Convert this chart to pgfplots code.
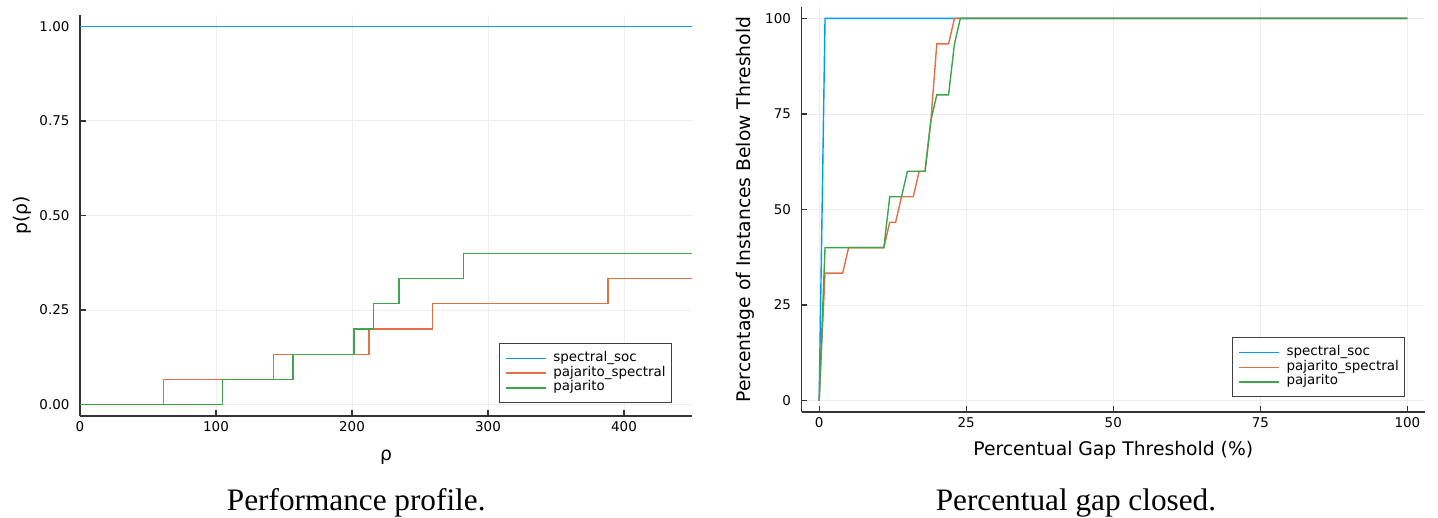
\documentclass[border=0pt]{standalone}
\usepackage{fontspec}
\setmainfont{Liberation Serif}
\newfontfamily\plotfont{DejaVu Sans}
\usepackage{pgfplots}
\pgfplotsset{compat=1.18}

\definecolor{jlblue}{RGB}{0,154,250}
\definecolor{jlorange}{RGB}{227,111,71}
\definecolor{jlgreen}{RGB}{62,164,78}

% Plots.jl-like look (GR backend)
\pgfplotsset{
  juliaplot/.style={
    scale only axis,
    axis x line*=bottom, axis y line*=left,
    axis line style={black!80, line width=0.45pt, -},
    tick align=inside,
    major tick length=1.9pt,
    tick style={black!80, line width=0.4pt},
    grid=major,
    major grid style={black!7, line width=0.3pt},
    /pgf/number format/assume math mode=true,
    tick label style={font=\plotfont\fontsize{4.3}{5}\selectfont, inner sep=0pt},
    x tick label style={yshift=-1.7pt},
    y tick label style={xshift=-3.2pt},
    label style={font=\plotfont\fontsize{6}{7}\selectfont, inner sep=0pt},
    legend cell align=left,
    legend image code/.code={\draw[##1] (0pt,0pt) -- (12.8pt,0pt);},
    legend style={draw=black!75, line width=0.4pt, fill=white,
      font=\plotfont\fontsize{4.3}{5}\selectfont,
      inner xsep=1.8pt, inner ysep=2.4pt, row sep=0pt, column sep=2.3pt,
      anchor=north east,
      nodes={inner sep=0pt, text height=3.3pt, text depth=1.4pt}},
    every axis plot/.append style={line width=0.45pt},
  },
}

\begin{document}
\begin{tikzpicture}
\useasboundingbox (0,0) rectangle (460.16pt,165.76pt);

% ---- performance profile ----
\begin{axis}[juliaplot,
  at={(25.6pt,32.64pt)}, anchor=south west,
  width=195.84pt, height=128.32pt,
  xmin=0, xmax=450, ymin=-0.03, ymax=1.03,
  xtick={0,100,200,300,400},
  ytick={0,0.25,0.5,0.75,1},
  yticklabels={0.00,0.25,0.50,0.75,1.00},
  xlabel={ρ}, ylabel={p(ρ)},
  xlabel style={at={(axis description cs:0.5,-0.083)}, anchor=north},
  ylabel style={at={(axis description cs:-0.079,0.5)}, anchor=south},
  legend style={at={(axis description cs:0.967,0.182)}},
]
\addplot[jlblue, const plot] coordinates {(0,1) (450,1)};
\addlegendentry{spectral\_soc}
\addplot[jlorange, const plot] coordinates {
  (0,0) (61.5,0.066667) (142.4,0.133333) (212.6,0.2)
  (259,0.266667) (388.3,0.333333) (450,0.333333)};
\addlegendentry{pajarito\_spectral}
\addplot[jlgreen, const plot] coordinates {
  (0,0) (104.6,0.066667) (156.5,0.133333) (201.5,0.2) (215.9,0.266667)
  (234.5,0.333333) (281.9,0.4) (450,0.4)};
\addlegendentry{pajarito}
\end{axis}

% ---- percentual gap closed ----
\begin{axis}[juliaplot,
  at={(256.48pt,33.92pt)}, anchor=south west,
  width=199.52pt, height=129.6pt,
  xmin=-3, xmax=103, ymin=-3, ymax=103,
  xtick={0,25,50,75,100},
  ytick={0,25,50,75,100},
  xlabel={Percentual Gap Threshold (\%)},
  ylabel={Percentage of Instances Below Threshold},
  xlabel style={at={(axis description cs:0.5,-0.0704)}, anchor=north},
  ylabel style={at={(axis description cs:-0.0746,0.5)}, anchor=south},
  legend style={at={(axis description cs:0.968,0.185)}},
]
\addplot[jlblue] coordinates {(0,0) (1,100) (100,100)};
\addlegendentry{spectral\_soc}
\addplot[jlorange] coordinates {
  (0,0) (1,33.33) (4,33.33) (5,40) (11,40) (12,46.67) (13,46.67)
  (14,53.33) (16,53.33) (17,60) (18,60) (19,73.33) (20,93.33)
  (22,93.33) (23,100) (100,100)};
\addlegendentry{pajarito\_spectral}
\addplot[jlgreen] coordinates {
  (0,0) (1,40) (11,40) (12,53.33) (14,53.33) (15,60) (18,60)
  (19,73.33) (20,80) (22,80) (23,93.33) (24,100) (100,100)};
\addlegendentry{pajarito}
\end{axis}

\node[anchor=base, font=\fontsize{10}{12}\selectfont] at (114.0pt,2.24pt) {Performance profile.};
\node[anchor=base, font=\fontsize{10}{12}\selectfont] at (344.3pt,2.24pt) {Percentual gap closed.};
\end{tikzpicture}
\end{document}
